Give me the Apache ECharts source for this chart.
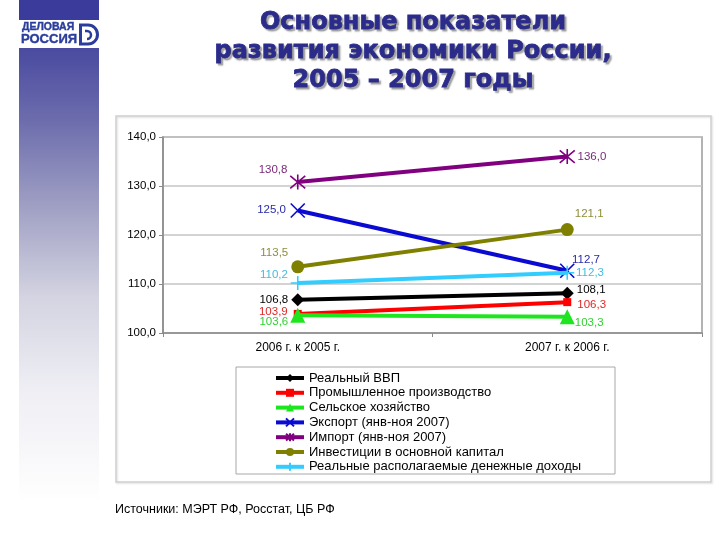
<!DOCTYPE html>
<html>
<head>
<meta charset="utf-8">
<script src="https://cdn.jsdelivr.net/npm/echarts@6/dist/echarts.min.js"></script>
<style>html,body{margin:0;padding:0;background:#fff;}#c{width:720px;height:540px;}</style>
</head>
<body>
<div id="c"></div>
<script>
var categories = ['2006 г. к 2005 г.', '2007 г. к 2006 г.'];
var seriesNames = ['Реальный ВВП', 'Промышленное производство', 'Сельское хозяйство', 'Экспорт (янв-ноя 2007)', 'Импорт (янв-ноя 2007)', 'Инвестиции в основной капитал', 'Реальные располагаемые денежные доходы'];
var gdp = [106.8, 108.1];
var industry = [103.9, 106.3];
var agriculture = [103.6, 103.3];
var exportV = [125.0, 112.7];
var importV = [130.8, 136.0];
var investment = [113.5, 121.1];
var income = [110.2, 112.3];
var yTicks = [100, 110, 120, 130, 140];
var titleText = 'Основные показатели\nразвития экономики России,\n2005 – 2007 годы';
var sourceText = 'Источники: МЭРТ РФ, Росстат, ЦБ РФ';

var values = [gdp, industry, agriculture, exportV, importV, investment, income];

// styles
var colors = ['#000000', '#ff0000', '#1ee61e', '#0a0ad2', '#800080', '#808000', '#33ccff'];
var labelColors = ['#000000', '#e02828', '#30d030', '#2a2aaa', '#7a2a7a', '#8e8e3a', '#44bcdc'];
var symbols = ['diamond', 'rect', 'triangle',
  'path://M0,0L10,10M10,0L0,10',
  'path://M0,0L10,10M10,0L0,10M5,-1L5,11',
  'circle',
  'path://M5,0L5,10M0,5L10,5'];
var symbolSizes = [13, 8, 15, 14, 15, 13, 14];
var strokeSym = [false, false, false, true, true, false, true];
// per-point label placement: [position, distance, dx, dy]
var labelPos = [
  [['left', 3, 0, 0], ['right', 3, 0, -3]],
  [['left', 6, 0, -2], ['right', 6, 0, 3]],
  [['left', 2, 0, 6], ['right', 0, 0, 6]],
  [['left', 4, 0, -1], ['right', 0, -3, -11]],
  [['left', 2, 0, -12], ['right', 2, 0, 0]],
  [['left', 3, 0, -14], ['right', 1, 0, -16]],
  [['left', 2, 0, -8], ['right', 1, 0, 0]]
];

function fmt(v) { return v.toFixed(1).replace('.', ','); }

var series = values.map(function (arr, i) {
  return {
    name: seriesNames[i],
    type: 'line',
    data: arr.map(function (v, j) {
      var p = labelPos[i][j];
      return {
        value: v,
        label: {
          show: true,
          position: p[0],
          distance: p[1],
          offset: [p[2], p[3]],
          color: labelColors[i],
          fontSize: 11.5,
          fontFamily: 'Liberation Sans, Arial, sans-serif',
          formatter: function (d) { return fmt(d.value); }
        }
      };
    }),
    symbol: symbols[i],
    symbolSize: symbolSizes[i],
    showAllSymbol: true,
    lineStyle: { color: colors[i], width: 4 },
    itemStyle: strokeSym[i]
      ? { color: colors[i], borderColor: colors[i], borderWidth: 1.6 }
      : { color: colors[i], borderWidth: 0 },
    emphasis: { disabled: true },
    animation: false,
    z: 2 + i
  };
});

var chart = echarts.init(document.getElementById('c'), null, { renderer: 'canvas' });
chart.setOption({
  backgroundColor: '#ffffff',
  animation: false,
  grid: {
    left: 163, right: 18, top: 137, bottom: 207,
    show: true, borderColor: '#9a9a9a', borderWidth: 1.5, backgroundColor: 'transparent'
  },
  xAxis: {
    type: 'category',
    data: categories,
    boundaryGap: true,
    axisLine: { lineStyle: { color: '#8a8a8a', width: 1.5 } },
    axisTick: { show: true, length: 4, lineStyle: { color: '#8a8a8a' } },
    axisLabel: { color: '#000', fontSize: 12, margin: 9, fontFamily: 'Liberation Sans, Arial, sans-serif' },
    splitLine: { show: false }
  },
  yAxis: {
    type: 'value',
    min: yTicks[0],
    max: yTicks[yTicks.length - 1],
    interval: 10,
    axisLine: { show: true, lineStyle: { color: '#8a8a8a', width: 1.5 } },
    axisTick: { show: true, length: 4, inside: false, lineStyle: { color: '#8a8a8a' } },
    axisLabel: { color: '#000', fontSize: 11.5, margin: 7, fontFamily: 'Liberation Sans, Arial, sans-serif', formatter: function (v) { return fmt(v); } },
    splitLine: { show: true, lineStyle: { color: '#c4c4c4', width: 1.5 } }
  },
  legend: {
    orient: 'vertical',
    left: 274,
    top: 371,
    itemWidth: 28,
    itemHeight: 10,
    itemGap: 0.8,
    padding: 0,
    selectedMode: false,
    lineStyle: { width: 4 },
    textStyle: { color: '#000', fontSize: 13, lineHeight: 14, fontFamily: 'Liberation Sans, Arial, sans-serif' },
    data: seriesNames
  },
  graphic: [
    // left decorative bar
    { type: 'rect', z: -10, shape: { x: 19, y: 0, width: 80, height: 20 }, style: { fill: '#3b3b9b' } },
    { type: 'rect', z: -10, shape: { x: 19, y: 48, width: 80, height: 455 },
      style: { fill: new echarts.graphic.LinearGradient(0, 0, 0, 1, [
        { offset: 0, color: '#4a4aa0' },
        { offset: 0.15, color: '#6a6aac' },
        { offset: 0.35, color: '#a0a0c4' },
        { offset: 0.55, color: '#d4d4e2' },
        { offset: 0.75, color: '#eeeef4' },
        { offset: 1, color: '#ffffff' }
      ]) } },
    // logo
    { type: 'text', z: 5, style: { x: 22, y: 22, text: 'ДЕЛОВАЯ', fill: '#2a3c9c', font: 'bold 10.5px Liberation Sans, Arial, sans-serif', stroke: '#2a3c9c', lineWidth: 0.4 } },
    { type: 'text', z: 5, style: { x: 21, y: 33, text: 'РОССИЯ', fill: '#2a3c9c', font: 'bold 13px Liberation Sans, Arial, sans-serif', stroke: '#2a3c9c', lineWidth: 0.4 } },
    { type: 'line', z: 5, shape: { x1: 80.5, y1: 24, x2: 80.5, y2: 45 }, style: { stroke: '#2a3c9c', lineWidth: 3 } },
    { type: 'line', z: 5, shape: { x1: 79, y1: 25, x2: 88, y2: 25 }, style: { stroke: '#2a3c9c', lineWidth: 3 } },
    { type: 'line', z: 5, shape: { x1: 79, y1: 44, x2: 88, y2: 44 }, style: { stroke: '#2a3c9c', lineWidth: 3 } },
    { type: 'arc', z: 5, shape: { cx: 88, cy: 34.5, r: 9.5, startAngle: -Math.PI / 2, endAngle: Math.PI / 2 }, style: { stroke: '#2a3c9c', lineWidth: 3, fill: 'none' } },
    { type: 'arc', z: 5, shape: { cx: 87, cy: 35, r: 4, startAngle: -Math.PI / 2, endAngle: Math.PI / 2 }, style: { stroke: '#2a3c9c', lineWidth: 2.5, fill: 'none' } },
    { type: 'line', z: 5, shape: { x1: 85, y1: 31, x2: 87, y2: 31 }, style: { stroke: '#2a3c9c', lineWidth: 2.5 } },
    // title
    { type: 'text', z: 5, style: {
        x: 413, y: 8, text: titleText, textAlign: 'center', fill: '#2b2b8c',
        font: 'bold 24px DejaVu Sans, sans-serif', lineHeight: 29,
        stroke: '#2b2b8c', lineWidth: 0.8,
        textShadowColor: 'rgba(60,60,60,0.45)', textShadowOffsetX: 2, textShadowOffsetY: 2, textShadowBlur: 1.5 } },
    // outer chart frame
    { type: 'rect', z: -5, shape: { x: 116, y: 116, width: 595, height: 366 },
      style: { fill: 'transparent', stroke: '#cfcfcf', lineWidth: 1.5, shadowColor: 'rgba(0,0,0,0.15)', shadowBlur: 2, shadowOffsetX: 1, shadowOffsetY: 1 } },
    // legend box
    { type: 'rect', z: -5, shape: { x: 236, y: 367, width: 379, height: 107 },
      style: { fill: 'transparent', stroke: '#a8a8a8', lineWidth: 1 } },
    // source
    { type: 'text', z: 5, style: { x: 115, y: 503, text: sourceText, fill: '#000', font: '12.5px Liberation Sans, Arial, sans-serif' } }
  ],
  series: series
});
</script>
</body>
</html>
